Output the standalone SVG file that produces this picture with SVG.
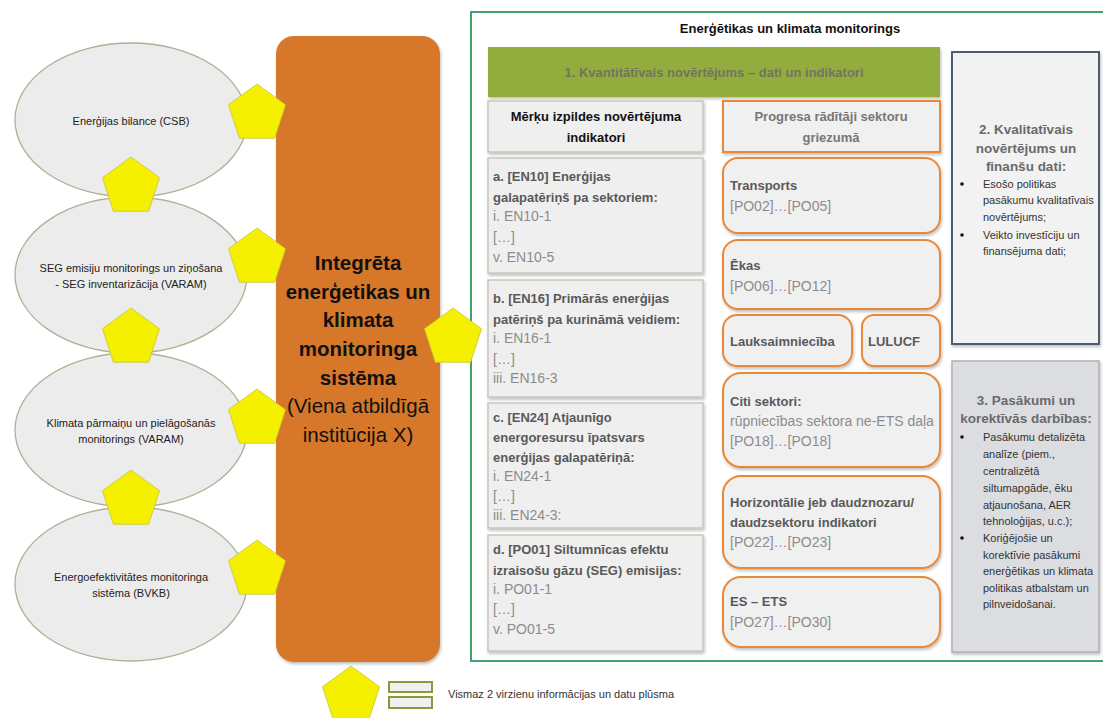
<svg xmlns="http://www.w3.org/2000/svg" width="1103" height="718" viewBox="0 0 1103 718">
  <defs>
    <filter id="shadow" x="-10%" y="-10%" width="130%" height="130%">
      <feDropShadow dx="1" dy="2" stdDeviation="1.5" flood-color="#000" flood-opacity="0.25"/>
    </filter>
    <!-- regular pentagon, radius 30, point up: marks a two-way information and data flow -->
    <polygon id="pent" points="0,-30 28.53,-9.27 17.63,24.27 -17.63,24.27 -28.53,-9.27"/>
  </defs>
  <style>
    text { font-family: "Liberation Sans", Arial, sans-serif; }
    .src ellipse { fill: #ececec; stroke: #b0b096; stroke-width: 1.3; }
    .src text { font-size: 11px; fill: #222; text-anchor: middle; }
    .flow use { fill: #f4f000; stroke: #c8c43c; stroke-width: 0.8; }
    .ind rect { fill: #efefef; stroke: #c7c7bc; stroke-width: 1.5; filter: url(#shadow); }
    .ind .h { font-size: 13px; font-weight: bold; fill: #595959; }
    .ind .i { font-size: 14px; fill: #8c8c8c; }
    .sec rect { fill: #f0f0f0; stroke: #e8883a; stroke-width: 2; filter: url(#shadow); }
    .sec .h { font-size: 13px; font-weight: bold; fill: #595959; }
    .sec .i { font-size: 14px; fill: #8c8c8c; }
    .qual .h { font-size: 13.5px; font-weight: bold; fill: #6a6a6a; text-anchor: middle; }
    .qual .b { font-size: 11px; fill: #333; }
  </style>

  <!-- source monitoring systems -->
  <g id="csb" class="src">
    <ellipse cx="131" cy="120" rx="116" ry="77"/>
    <text x="131" y="125">Enerģijas bilance (CSB)</text>
  </g>
  <g id="seg" class="src">
    <ellipse cx="131" cy="275" rx="116" ry="78"/>
    <text x="131" y="272">SEG emisiju monitorings un ziņošana</text>
    <text x="131" y="288">- SEG inventarizācija (VARAM)</text>
  </g>
  <g id="klimats" class="src">
    <ellipse cx="131" cy="430" rx="116" ry="77"/>
    <text x="131" y="427">Klimata pārmaiņu un pielāgošanās</text>
    <text x="131" y="443">monitorings (VARAM)</text>
  </g>
  <g id="bvkb" class="src">
    <ellipse cx="131" cy="584" rx="116" ry="77"/>
    <text x="131" y="581">Energoefektivitātes monitoringa</text>
    <text x="131" y="597">sistēma (BVKB)</text>
  </g>

  <!-- central integrated system -->
  <g id="system">
    <rect x="276" y="36" width="164" height="626" rx="18" fill="#d6772a" filter="url(#shadow)"/>
    <g font-size="20.5px" fill="#111" text-anchor="middle">
      <text x="358" y="270" font-weight="bold">Integrēta</text>
      <text x="358" y="299" font-weight="bold">enerģetikas un</text>
      <text x="358" y="327" font-weight="bold">klimata</text>
      <text x="358" y="356" font-weight="bold">monitoringa</text>
      <text x="358" y="385" font-weight="bold">sistēma</text>
      <text x="358" y="413">(Viena atbildīgā</text>
      <text x="358" y="442">institūcija X)</text>
    </g>
  </g>

  <!-- monitoring frame -->
  <g id="monitoring">
    <rect x="471" y="12" width="640" height="649" fill="#fff" stroke="#43a06f" stroke-width="2"/>
    <text x="790" y="33" font-size="13px" font-weight="bold" fill="#111" text-anchor="middle">Enerģētikas un klimata monitorings</text>
  </g>

  <g id="quantitative">
    <rect x="488" y="47" width="452" height="50" fill="#92ad3c" filter="url(#shadow)"/>
    <text x="714" y="77" font-size="13px" font-weight="bold" fill="#74745e" text-anchor="middle">1. Kvantitātīvais novērtējums – dati un indikatori</text>
  </g>

  <!-- target indicators column -->
  <g id="targets" class="ind">
    <rect x="488" y="101" width="215" height="51"/>
    <text x="596" y="121" font-size="13px" font-weight="bold" fill="#111" text-anchor="middle">Mērķu izpildes novērtējuma</text>
    <text x="596" y="142" font-size="13px" font-weight="bold" fill="#111" text-anchor="middle">indikatori</text>
  </g>
  <g id="en10" class="ind">
    <rect x="488" y="158" width="215" height="115"/>
    <text class="h" x="493" y="181">a. [EN10] Enerģijas</text>
    <text class="h" x="493" y="202">galapatēriņš pa sektoriem:</text>
    <text class="i" x="493" y="221">i. EN10-1</text>
    <text class="i" x="493" y="242">[…]</text>
    <text class="i" x="493" y="262">v. EN10-5</text>
  </g>
  <g id="en16" class="ind">
    <rect x="488" y="280" width="215" height="117"/>
    <text class="h" x="493" y="303">b. [EN16] Primārās enerģijas</text>
    <text class="h" x="493" y="324">patēriņš pa kurināmā veidiem:</text>
    <text class="i" x="493" y="343">i. EN16-1</text>
    <text class="i" x="493" y="364">[…]</text>
    <text class="i" x="493" y="383">iii. EN16-3</text>
  </g>
  <g id="en24" class="ind">
    <rect x="488" y="403" width="215" height="125"/>
    <text class="h" x="493" y="422">c. [EN24] Atjaunīgo</text>
    <text class="h" x="493" y="442">energoresursu īpatsvars</text>
    <text class="h" x="493" y="462">enerģijas galapatēriņā:</text>
    <text class="i" x="493" y="481">i. EN24-1</text>
    <text class="i" x="493" y="501">[…]</text>
    <text class="i" x="493" y="520">iii. EN24-3:</text>
  </g>
  <g id="po01" class="ind">
    <rect x="488" y="535" width="215" height="116"/>
    <text class="h" x="493" y="554">d. [PO01] Siltumnīcas efektu</text>
    <text class="h" x="493" y="575">izraisošu gāzu (SEG) emisijas:</text>
    <text class="i" x="493" y="594">i. PO01-1</text>
    <text class="i" x="493" y="614">[…]</text>
    <text class="i" x="493" y="634">v. PO01-5</text>
  </g>

  <!-- sector progress column -->
  <g id="progress" class="sec">
    <rect x="723" y="101" width="217" height="51" rx="0"/>
    <text x="831" y="121" font-size="13px" font-weight="bold" fill="#777" text-anchor="middle">Progresa rādītāji sektoru</text>
    <text x="831" y="142" font-size="13px" font-weight="bold" fill="#777" text-anchor="middle">griezumā</text>
  </g>
  <g id="transport" class="sec">
    <rect x="723" y="158" width="217" height="75" rx="15"/>
    <text class="h" x="730" y="190">Transports</text>
    <text class="i" x="730" y="211">[PO02]…[PO05]</text>
  </g>
  <g id="buildings" class="sec">
    <rect x="723" y="240" width="217" height="69" rx="15"/>
    <text class="h" x="730" y="270">Ēkas</text>
    <text class="i" x="730" y="291">[PO06]…[PO12]</text>
  </g>
  <g id="agriculture" class="sec">
    <rect x="723" y="315" width="129" height="51" rx="14"/>
    <text class="h" x="730" y="346">Lauksaimniecība</text>
  </g>
  <g id="lulucf" class="sec">
    <rect x="862" y="315" width="78" height="51" rx="12"/>
    <text class="h" x="868" y="346">LULUCF</text>
  </g>
  <g id="other" class="sec">
    <rect x="723" y="373" width="217" height="94" rx="18"/>
    <text class="h" x="730" y="406">Citi sektori:</text>
    <text class="i" x="730" y="426">rūpniecības sektora ne-ETS daļa</text>
    <text class="i" x="730" y="446">[PO18]…[PO18]</text>
  </g>
  <g id="horizontal" class="sec">
    <rect x="723" y="476" width="217" height="92" rx="18"/>
    <text class="h" x="730" y="507">Horizontālie jeb daudznozaru/</text>
    <text class="h" x="730" y="527">daudzsektoru indikatori</text>
    <text class="i" x="730" y="547">[PO22]…[PO23]</text>
  </g>
  <g id="ets" class="sec">
    <rect x="723" y="577" width="217" height="70" rx="18"/>
    <text class="h" x="730" y="606">ES – ETS</text>
    <text class="i" x="730" y="627">[PO27]…[PO30]</text>
  </g>

  <!-- qualitative assessment -->
  <g id="qualitative" class="qual">
    <rect x="952" y="52" width="147" height="292" fill="#f2f2f2" stroke="#4d5b75" stroke-width="2" filter="url(#shadow)"/>
    <text class="h" x="1026" y="134">2. Kvalitatīvais</text>
    <text class="h" x="1026" y="153">novērtējums un</text>
    <text class="h" x="1026" y="171">finanšu dati:</text>
    <circle cx="962" cy="184" r="1.8" fill="#111"/>
    <text class="b" x="983" y="188">Esošo politikas</text>
    <text class="b" x="983" y="204">pasākumu kvalitatīvais</text>
    <text class="b" x="983" y="221">novērtējums;</text>
    <circle cx="962" cy="235" r="1.8" fill="#111"/>
    <text class="b" x="983" y="239">Veikto investīciju un</text>
    <text class="b" x="983" y="255">finansējuma dati;</text>
  </g>

  <!-- measures and corrective actions -->
  <g id="measures" class="qual">
    <rect x="952" y="361" width="147" height="291" fill="#dcdde1" stroke="#aeb0b8" stroke-width="1.5" filter="url(#shadow)"/>
    <text class="h" x="1026" y="405">3. Pasākumi un</text>
    <text class="h" x="1026" y="423">korektīvās darbības:</text>
    <circle cx="962" cy="437" r="1.8" fill="#111"/>
    <text class="b" x="983" y="441">Pasākumu detalizēta</text>
    <text class="b" x="983" y="458">analīze (piem.,</text>
    <text class="b" x="983" y="475">centralizētā</text>
    <text class="b" x="983" y="492">siltumapgāde, ēku</text>
    <text class="b" x="983" y="509">atjaunošana, AER</text>
    <text class="b" x="983" y="525">tehnoloģijas, u.c.);</text>
    <circle cx="962" cy="538" r="1.8" fill="#111"/>
    <text class="b" x="983" y="542">Koriģējošie un</text>
    <text class="b" x="983" y="559">korektīvie pasākumi</text>
    <text class="b" x="983" y="575">enerģētikas un klimata</text>
    <text class="b" x="983" y="592">politikas atbalstam un</text>
    <text class="b" x="983" y="608">pilnveidošanai.</text>
  </g>

  <!-- two-way flow markers between the systems -->
  <g id="connectors" class="flow">
    <use href="#pent" x="131" y="187"/>
    <use href="#pent" x="131" y="338"/>
    <use href="#pent" x="131" y="500"/>
    <use href="#pent" x="257" y="114"/>
    <use href="#pent" x="257" y="258"/>
    <use href="#pent" x="257" y="419"/>
    <use href="#pent" x="257" y="570"/>
    <use href="#pent" x="453" y="338"/>
  </g>

  <!-- legend -->
  <g id="legend">
    <use href="#pent" x="351" y="696" fill="#f4f000" stroke="#c8c43c" stroke-width="0.8"/>
    <rect x="389" y="682" width="43" height="10" fill="#f0f0f0" stroke="#8a9a3a" stroke-width="2"/>
    <rect x="389" y="697" width="43" height="11" fill="#f0f0f0" stroke="#8a9a3a" stroke-width="2"/>
    <text x="448" y="698" font-size="11px" fill="#333">Vismaz 2 virzienu informācijas un datu plūsma</text>
  </g>
</svg>
